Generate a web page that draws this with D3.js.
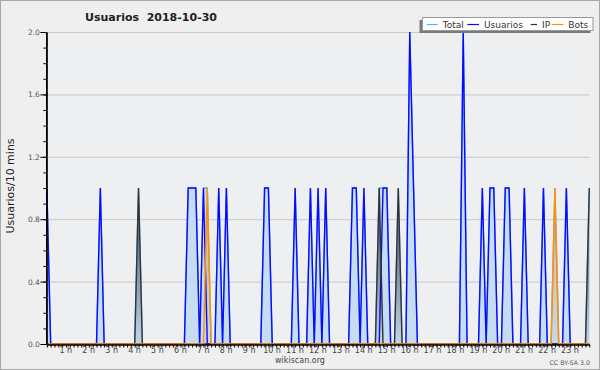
<!DOCTYPE html>
<html>
<head>
<meta charset="utf-8">
<script src="https://cdn.jsdelivr.net/npm/d3@7"></script>
<style>
body { margin: 0; background: #fff; }
text { font-family: "DejaVu Sans", sans-serif; }
</style>
</head>
<body>
<svg id="chart" width="600" height="370"></svg>
<script>
// one value every 10 minutes, one row per hour (00:00 .. 23:40)
var usuarios = [
    1, 0, 0, 0, 0, 0,
    0, 0, 0, 0, 0, 0,
    0, 0, 1, 0, 0, 0,
    0, 0, 0, 0, 0, 0,
    0, 0, 0, 0, 0, 0,
    0, 0, 0, 0, 0, 0,
    0, 1, 1, 1, 0, 1,
    0, 0, 0, 1, 0, 1,
    0, 0, 0, 0, 0, 0,
    0, 0, 0, 1, 1, 0,
    0, 0, 0, 0, 0, 1,
    0, 0, 0, 1, 0, 1,
    0, 1, 0, 0, 0, 0,
    0, 0, 1, 1, 0, 1,
    0, 0, 0, 0, 1, 1,
    0, 0, 0, 0, 0, 2,
    1, 0, 0, 0, 0, 0,
    0, 0, 0, 0, 0, 0,
    0, 2, 0, 0, 0, 0,
    1, 0, 1, 1, 0, 0,
    1, 1, 0, 0, 0, 1,
    0, 0, 0, 0, 1, 0,
    0, 0, 0, 0, 1, 0,
    0, 0, 0, 0, 0
];

var ip = [
    0, 0, 0, 0, 0, 0,
    0, 0, 0, 0, 0, 0,
    0, 0, 0, 0, 0, 0,
    0, 0, 0, 0, 0, 0,
    1, 0, 0, 0, 0, 0,
    0, 0, 0, 0, 0, 0,
    0, 0, 0, 0, 0, 0,
    0, 0, 0, 0, 0, 0,
    0, 0, 0, 0, 0, 0,
    0, 0, 0, 0, 0, 0,
    0, 0, 0, 0, 0, 0,
    0, 0, 0, 0, 0, 0,
    0, 0, 0, 0, 0, 0,
    0, 0, 0, 0, 0, 0,
    0, 0, 0, 1, 0, 0,
    0, 0, 1, 0, 0, 0,
    0, 0, 0, 0, 0, 0,
    0, 0, 0, 0, 0, 0,
    0, 0, 0, 0, 0, 0,
    0, 0, 0, 0, 0, 0,
    0, 0, 0, 0, 0, 0,
    0, 0, 0, 0, 0, 0,
    0, 0, 0, 0, 0, 0,
    0, 0, 0, 0, 1
];

var bots = [
    0, 0, 0, 0, 0, 0,
    0, 0, 0, 0, 0, 0,
    0, 0, 0, 0, 0, 0,
    0, 0, 0, 0, 0, 0,
    0, 0, 0, 0, 0, 0,
    0, 0, 0, 0, 0, 0,
    0, 0, 0, 0, 0, 0,
    1, 0, 0, 0, 0, 0,
    0, 0, 0, 0, 0, 0,
    0, 0, 0, 0, 0, 0,
    0, 0, 0, 0, 0, 0,
    0, 0, 0, 0, 0, 0,
    0, 0, 0, 0, 0, 0,
    0, 0, 0, 0, 0, 0,
    0, 0, 0, 0, 0, 0,
    0, 0, 0, 0, 0, 0,
    0, 0, 0, 0, 0, 0,
    0, 0, 0, 0, 0, 0,
    0, 0, 0, 0, 0, 0,
    0, 0, 0, 0, 0, 0,
    0, 0, 0, 0, 0, 0,
    0, 0, 0, 0, 0, 0,
    0, 1, 0, 0, 0, 0,
    0, 0, 0, 0, 0
];

var total = usuarios.map(function (v, i) { return v + ip[i] + bots[i]; });

var hourLabels = ['1 h', '2 h', '3 h', '4 h', '5 h', '6 h', '7 h', '8 h', '9 h', '10 h', '11 h', '12 h',
    '13 h', '14 h', '15 h', '16 h', '17 h', '18 h', '19 h', '20 h', '21 h', '22 h', '23 h'];
var yLabels = [0, 0.4, 0.8, 1.2, 1.6, 2.0];

var legendNames = ['Total', 'Usuarios', 'IP', 'Bots'];
var legendColors = ['#5aaeff', '#0a0aff', '#333333', '#ff9000'];

let svg = d3.select('#chart');

svg.append('rect').attr('x', 0.5).attr('y', 0.5).attr('width', 599).attr('height', 369)
    .attr('fill', '#efefef').attr('stroke', '#a8a8a8');

var x = d3.scaleLinear().domain([0, usuarios.length - 1]).range([46.85, 589.3]);
var y = d3.scaleLinear().domain([0, 2]).range([344, 32]);

svg.append('rect').attr('x', x(0)).attr('y', y(2)).attr('width', x(usuarios.length - 1) - x(0))
    .attr('height', y(0) - y(2)).attr('fill', '#eeeff1');

// grid
svg.append('g').selectAll('line').data(yLabels.slice(1)).enter().append('line')
    .attr('x1', x(0)).attr('x2', x(usuarios.length - 1))
    .attr('y1', function (d) { return y(d) + 0.5; }).attr('y2', function (d) { return y(d) + 0.5; })
    .attr('stroke', '#c8c8c8').attr('stroke-width', 1);

// gradients for the IP and Bots fills
var defs = svg.append('defs');
function grad(id, color, top) {
    let g = defs.append('linearGradient').attr('id', id).attr('gradientUnits', 'userSpaceOnUse')
        .attr('x1', 0).attr('x2', 0).attr('y1', y(1)).attr('y2', y(0));
    g.append('stop').attr('offset', '0%').attr('stop-color', color).attr('stop-opacity', top);
    g.append('stop').attr('offset', '100%').attr('stop-color', color).attr('stop-opacity', 0.03);
}
grad('gIP', '#1e1e1e', 0.8);
grad('gBots', '#ff8c00', 0.55);

var area = d3.area().x(function (d, i) { return x(i); }).y0(y(0)).y1(function (d) { return y(d); });
var line = d3.line().x(function (d, i) { return x(i); }).y(function (d) { return y(d); });

svg.append('path').datum(total).attr('d', area).attr('fill', '#c6dcf0');
svg.append('path').datum(ip).attr('d', area).attr('fill', 'url(#gIP)');
svg.append('path').datum(bots).attr('d', area).attr('fill', 'url(#gBots)');

var series = [total, usuarios, ip, bots];
for (let i = 0; i < series.length; i++) {
    svg.append('path').datum(series[i]).attr('d', line).attr('fill', 'none')
        .attr('stroke', legendColors[i]).attr('stroke-width', 1.4).attr('stroke-linejoin', 'miter');
}

// axes
let yMinor = svg.append('g').attr('transform', 'translate(' + (x(0) - 0.5) + ',0)')
    .call(d3.axisLeft(y).tickValues(d3.range(0, 21).map(function (k) { return k / 10; }))
        .tickSize(3).tickSizeOuter(0).tickFormat(''));
let yMajor = svg.append('g').attr('transform', 'translate(' + (x(0) - 0.5) + ',0)')
    .call(d3.axisLeft(y).tickValues(yLabels).tickSize(6).tickSizeOuter(0).tickFormat(d3.format('.1f')));
yMajor.selectAll('text').attr('x', -6.5).attr('fill', '#555').style('font-size', '7.5px');

let xMinor = svg.append('g').attr('transform', 'translate(0,' + (y(0) + 0.5) + ')')
    .call(d3.axisBottom(x).tickValues(d3.range(0, usuarios.length)).tickSize(3).tickSizeOuter(0).tickFormat(''));

svg.selectAll('.domain').attr('stroke', '#000').attr('stroke-width', 1.5);
svg.selectAll('.tick line').attr('stroke', '#000');

svg.append('g').selectAll('text').data(hourLabels).enter().append('text')
    .attr('x', function (d, i) { return x((i + 1) * 6) - 4; }).attr('y', 353)
    .attr('text-anchor', 'middle').attr('fill', '#444').style('font-size', '8px').text(function (d) { return d; });

// titles
svg.append('text').attr('x', 151).attr('y', 21).attr('text-anchor', 'middle')
    .style('font-weight', 'bold').style('font-size', '11px').style('white-space', 'pre')
    .attr('fill', '#222').text('Usuarios  2018-10-30');

svg.append('text').attr('transform', 'translate(13.5,186) rotate(-90)').attr('text-anchor', 'middle')
    .style('font-size', '11px').attr('fill', '#222').text('Usuarios/10 mins');

svg.append('text').attr('x', 300).attr('y', 363).attr('text-anchor', 'middle')
    .style('font-size', '8px').attr('fill', '#444').text('wikiscan.org');
svg.append('text').attr('x', 590).attr('y', 365).attr('text-anchor', 'end')
    .style('font-size', '6.3px').attr('fill', '#555').text('CC BY-SA 3.0');

// legend
let leg = svg.append('g');
leg.append('rect').attr('x', 419.5).attr('y', 20).attr('width', 171).attr('height', 13).attr('fill', '#7a7a7a');
leg.append('rect').attr('x', 422.5).attr('y', 17.5).attr('width', 170.5).attr('height', 13)
    .attr('fill', '#fff').attr('stroke', '#999');
var legDash = [426.7, 467.3, 530.7, 551.7];
var legText = [442.7, 484, 542, 568.3];
for (let i = 0; i < legendNames.length; i++) {
    leg.append('line').attr('x1', legDash[i]).attr('x2', legText[i] - 5).attr('y1', 24.5).attr('y2', 24.5)
        .attr('stroke', legendColors[i]).attr('stroke-width', 1.2);
    leg.append('text').attr('x', legText[i]).attr('y', 27.8).style('font-size', '9px')
        .attr('fill', '#333').text(legendNames[i]);
}
</script>
</body>
</html>
